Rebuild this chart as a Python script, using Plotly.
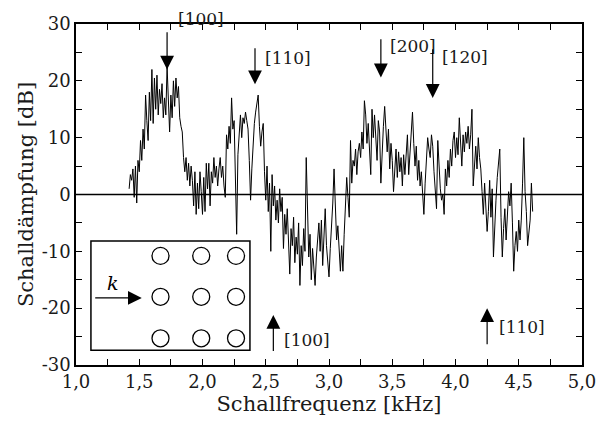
import plotly.graph_objects as go

# ---------------- data ----------------
freq_start = 1.42   # kHz
freq_step = 0.01    # kHz
damping = [
    1.0, 3.5, 2.5, 4.5, -0.5, 5.0, -1.5, 6.0,
    4.0, 9.5, 6.0, 11.5, 8.0, 17.5, 13.0, 9.5, 18.0, 13.0,
    22.0, 12.5, 20.5, 15.0, 21.0, 14.0, 18.5, 16.0, 19.5, 13.5,
    17.0, 14.0, 22.5, 16.0, 11.0, 17.5, 13.5, 20.0, 15.5, 20.5,
    17.0, 19.0, 13.5, 12.0, 11.0, 6.5, 4.0, 6.5, 2.5, 5.5,
    1.5, 5.0, 2.5, -2.0, 4.0, -3.5, 2.0, -2.5, 4.0, 0.5,
    -3.5, 3.0, -3.0, 5.5, 1.0, 5.5, -2.0, 4.0, 2.0, 6.5,
    3.0, 5.0, 1.5, 4.5, 6.5, 3.0, 5.0, 1.5, -0.5, 10.5,
    8.0, 12.0, 9.0, 17.0, 11.5, 13.0, 4.5, -7.0, 7.0, 10.5,
    14.0, 10.0, 13.5, 12.5, 14.5, 13.0, 11.5, 6.0, -1.0, 4.5,
    9.0, 12.5, 14.5, 16.0, 17.5, 12.0, 8.5, 11.0, 12.5, 4.0,
    -1.0, 5.0, -3.0, 2.0, -10.0, 3.5, -2.0, 1.5, -4.5, -1.0,
    -5.0, 1.0, -3.0, -0.5, -9.5, -3.5, -7.0, -2.5, -10.0, -14.0,
    -6.0, -9.0, -4.0, -12.0, -7.5, -10.5, -5.0, -16.0, -9.0, -12.5,
    -6.0, -10.0, 6.5, -3.0, -11.0, -7.0, -15.0, -9.5, -12.0, -16.0,
    -11.0, -7.5, -5.0, -10.0, -4.5, -12.5, -8.0, -2.5, -9.0, -12.0,
    -14.5, -9.5, -6.0, -1.5, 4.5, -3.0, -8.0, -5.5, -11.0, -13.5,
    -9.0, -13.5, -7.0, -1.0, 3.0, -0.5, -4.0, 9.5, 2.0, 6.0,
    5.0, 8.0, 3.5, 7.5, 9.0, 6.5, 11.0, 8.0, 16.5, 14.0,
    9.0, 12.5, 7.0, 3.5, 15.0, 10.0, 14.0, 9.0, 6.0, 13.0,
    11.0, 2.0, 8.0, 12.0, 15.5, 10.5, 7.5, 11.5, 4.5, 9.0,
    6.0, 0.5, 5.5, 8.0, 3.0, 7.5, 4.0, 6.5, 1.5, 7.0,
    3.5, 8.0, 10.5, 3.5, 7.0, 11.0, 14.5, 9.0, 5.0, 8.5,
    2.5, 6.0, 1.5, 4.0, -1.0, -3.5, 2.0, 6.5, 10.0, 8.0,
    6.5, 10.5, 8.5, 4.0, 0.5, -2.5, 9.5, 5.0, 1.0, -1.0,
    0.0, -3.5, 4.5, 1.5, 6.0, 3.0, 8.0, 5.0, 9.5, 11.0,
    6.5, 10.0, 7.0, 13.5, 9.5, 5.0, 10.5, 7.5, 11.0, 9.0,
    12.0, 8.0, 10.5, 15.0, 1.5, 6.0, 8.5, 4.5, 10.0, 6.5,
    4.5, 0.5, -3.5, 2.0, -1.5, -6.5, -3.0, 2.5, -4.0, 1.0,
    -11.0, -5.0, -1.0, 3.0, 5.5, 8.0, -4.0, -11.0, -6.0, -2.5,
    -8.0, -3.0, 0.5, -2.0, 2.0, -5.0, -13.5, -9.0, -6.5, -10.0,
    -4.5, -8.0, -4.5, 2.0, 10.0, 0.5, -3.0, -9.0, -7.0, -4.5,
    2.0, -3.0,
]
frequency = [round(freq_start + i * freq_step, 3) for i in range(len(damping))]

x_tickvals = [1.0, 1.5, 2.0, 2.5, 3.0, 3.5, 4.0, 4.5, 5.0]
x_ticktext = ["1,0", "1,5", "2,0", "2,5", "3,0", "3,5", "4,0", "4,5", "5,0"]
y_tickvals = [-30, -20, -10, 0, 10, 20, 30]
y_ticktext = ["-30", "-20", "-10", "0", "10", "20", "30"]

# peak markers: (label, frequency, arrow tail dB, arrow tip dB, label f, label dB)
top_marks = [
    ("[100]", 1.72, 28.8, 22.0, 1.79, 30.8),
    ("[110]", 2.415, 26.0, 19.4, 2.48, 24.0),
    ("[200]", 3.41, 27.6, 20.6, 3.47, 26.2),
    ("[120]", 3.82, 25.8, 17.0, 3.88, 24.2),
]
bottom_marks = [
    ("[100]", 2.56, -27.8, -21.2, 2.63, -25.6),
    ("[110]", 4.25, -26.6, -20.0, 4.33, -23.4),
]

# inset (lattice sketch)
lattice_x = [1.668, 1.99, 2.265]
lattice_y = [-10.8, -18.0, -25.3]

FONT = "DejaVu Serif"
TEXT_COLOR = "#1a1a1a"
Y_MIN, Y_MAX = -30, 30

fig = go.Figure()

fig.add_trace(go.Scatter(
    x=frequency, y=damping, mode="lines",
    line=dict(color="black", width=1), showlegend=False,
))

# zero line
fig.add_shape(type="line", xref="paper", x0=0, x1=1, yref="y", y0=0, y1=0,
              line=dict(color="black", width=1.5))

# inset box
fig.add_shape(type="rect", x0=1.118, x1=2.375, y0=-27.4, y1=-8.2,
              line=dict(color="black", width=1.5), fillcolor="rgba(0,0,0,0)", layer="below")

cx = [x for y in lattice_y for x in lattice_x]
cy = [y for y in lattice_y for x in lattice_x]
fig.add_trace(go.Scatter(
    x=cx, y=cy, mode="markers",
    marker=dict(symbol="circle-open", size=17, color="black", line=dict(width=1.3)),
    showlegend=False,
))


def to_paper(v):
    return (v - Y_MIN) / (Y_MAX - Y_MIN)


annotations = []
for lab, f, tail, tip, lf, ld in top_marks + bottom_marks:
    annotations.append(dict(
        x=f, y=tip, ax=f, ay=tail, xref="x", yref="y", axref="x", ayref="y",
        text="", showarrow=True, arrowhead=2, arrowsize=2.3, arrowwidth=1.2,
        arrowcolor="black",
    ))
    annotations.append(dict(
        x=lf, y=to_paper(ld), xref="x", yref="paper", text=lab, showarrow=False,
        xanchor="left", yanchor="middle",
        font=dict(family=FONT, size=17, color=TEXT_COLOR),
    ))

# k arrow
annotations.append(dict(
    x=1.52, y=-18.2, ax=1.14, ay=-18.2, xref="x", yref="y", axref="x", ayref="y",
    text="", showarrow=True, arrowhead=2, arrowsize=2.3, arrowwidth=1.2,
    arrowcolor="black",
))
annotations.append(dict(
    x=1.29, y=-15.6, xref="x", yref="y", text="<i>k</i>", showarrow=False,
    font=dict(family=FONT, size=19, color="black"),
))

fig.update_layout(
    width=608, height=421,
    margin=dict(l=76, r=23, t=24, b=56),
    paper_bgcolor="white", plot_bgcolor="white",
    font=dict(family=FONT, size=18, color=TEXT_COLOR),
    annotations=annotations,
    showlegend=False,
)

axis_common = dict(
    showline=True, linecolor="black", linewidth=1.5, mirror="ticks",
    ticks="inside", ticklen=6, tickwidth=1.2, tickcolor="black",
    showgrid=False, zeroline=False,
    tickfont=dict(family=FONT, size=18, color=TEXT_COLOR),
)

fig.update_xaxes(
    range=[1.0, 5.0], tickvals=x_tickvals, ticktext=x_ticktext,
    minor=dict(dtick=0.25, ticks="inside", ticklen=6, tickwidth=1.2, tickcolor="black"),
    title=dict(text="Schallfrequenz [kHz]", font=dict(family=FONT, size=21, color=TEXT_COLOR), standoff=0),
    **axis_common,
)
fig.update_yaxes(
    range=[Y_MIN, Y_MAX], tickvals=y_tickvals, ticktext=y_ticktext,
    minor=dict(dtick=5, ticks="inside", ticklen=6, tickwidth=1.2, tickcolor="black"),
    title=dict(text="Schalldämpfung [dB]", font=dict(family=FONT, size=21, color=TEXT_COLOR), standoff=2),
    **axis_common,
)

fig.write_html("out.html")
